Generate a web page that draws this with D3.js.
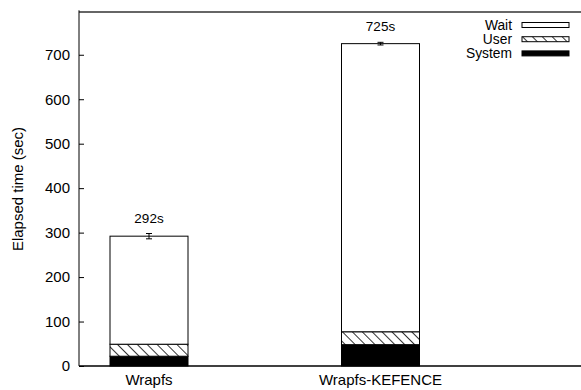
<!DOCTYPE html>
<html>
<head>
<meta charset="utf-8">
<script src="https://cdn.jsdelivr.net/npm/d3@7"></script>
<style>
  body { margin: 0; background: #fff; }
  svg text { font-family: "Liberation Sans", Arial, sans-serif; }
</style>
</head>
<body>
<div id="chart"></div>
<script>
// ---- data ----
var categories = ["Wrapfs", "Wrapfs-KEFENCE"];
var seriesNames = ["System", "User", "Wait"];
var systemTime = [22, 48];
var userTime = [27, 29];
var waitTime = [243, 648];
var totalLabels = ["292s", "725s"];
var errorHalf = [6, 3];
var yTicks = [0, 100, 200, 300, 400, 500, 600, 700];

var W = 581, H = 390;
var margin = {top: 12, right: 0, bottom: 24, left: 79};
var plotBottom = 366;

var svg = d3.select("#chart").append("svg")
    .attr("width", W)
    .attr("height", H);

// hatch pattern for "User"
var defs = svg.append("defs");
var pat = defs.append("pattern")
    .attr("id", "hatch")
    .attr("patternUnits", "userSpaceOnUse")
    .attr("width", 7)
    .attr("height", 7)
    .attr("patternTransform", "rotate(-45)");
pat.append("rect").attr("width", 7).attr("height", 7).attr("fill", "#fff");
pat.append("line")
    .attr("x1", 0).attr("y1", 0).attr("x2", 0).attr("y2", 7)
    .attr("stroke", "#000").attr("stroke-width", 1.6);

var fills = {System: "#000", User: "url(#hatch)", Wait: "#fff"};

// scales
var y = d3.scaleLinear().domain([0, 800]).range([plotBottom, 10.3]);
var x = d3.scalePoint()
    .domain(categories)
    .range([149, 380.5]);

// stacked data
var table = categories.map(function(c, i) {
    return {cat: c, System: systemTime[i], User: userTime[i], Wait: waitTime[i]};
});
var stack = d3.stack().keys(seriesNames)(table);

// frame line on top
svg.append("line")
    .attr("x1", margin.left).attr("x2", W)
    .attr("y1", 12).attr("y2", 12)
    .attr("stroke", "#333").attr("stroke-width", 1.5);

// bars
var bw = 78;
stack.forEach(function(layer) {
    svg.append("g").selectAll("rect")
        .data(layer)
        .enter().append("rect")
        .attr("x", function(d) { return x(d.data.cat) - bw / 2; })
        .attr("y", function(d) { return y(d[1]); })
        .attr("width", bw)
        .attr("height", function(d) { return y(d[0]) - y(d[1]); })
        .attr("fill", fills[layer.key])
        .attr("stroke", "#000")
        .attr("stroke-width", 1);
});

// error bars + total labels
table.forEach(function(d, i) {
    var cx = x(d.cat);
    var tot = systemTime[i] + userTime[i] + waitTime[i];
    var g = svg.append("g").attr("stroke", "#000").attr("stroke-width", 1);
    g.append("line").attr("x1", cx).attr("x2", cx)
        .attr("y1", y(tot - errorHalf[i])).attr("y2", y(tot + errorHalf[i]));
    g.append("line").attr("x1", cx - 3).attr("x2", cx + 3)
        .attr("y1", y(tot - errorHalf[i])).attr("y2", y(tot - errorHalf[i]));
    g.append("line").attr("x1", cx - 3).attr("x2", cx + 3)
        .attr("y1", y(tot + errorHalf[i])).attr("y2", y(tot + errorHalf[i]));
    svg.append("text")
        .attr("x", cx)
        .attr("y", y(tot) - 13)
        .attr("text-anchor", "middle")
        .attr("font-size", "13.5px")
        .text(totalLabels[i]);
});

// y axis (ticks inward)
var yAxis = svg.append("g")
    .attr("transform", "translate(" + margin.left + ",0)")
    .call(d3.axisRight(y).tickValues(yTicks).tickSize(5).tickFormat(d3.format("d")));
yAxis.select(".domain").attr("stroke", "#000").attr("d", "M0," + y(800) + "V" + plotBottom);
yAxis.selectAll("text")
    .attr("x", -9)
    .attr("text-anchor", "end")
    .attr("font-size", "15px")
    .attr("fill", "#000");

// bottom line
svg.append("line")
    .attr("x1", margin.left).attr("x2", W)
    .attr("y1", plotBottom).attr("y2", plotBottom)
    .attr("stroke", "#000").attr("stroke-width", 1.5);

// x labels
svg.append("g").selectAll("text")
    .data(categories)
    .enter().append("text")
    .attr("x", function(d) { return x(d); })
    .attr("y", 385)
    .attr("text-anchor", "middle")
    .attr("font-size", "15px")
    .text(function(d) { return d; });

// y label
svg.append("text")
    .attr("transform", "translate(23," + ((12 + plotBottom) / 2) + ") rotate(-90)")
    .attr("text-anchor", "middle")
    .attr("font-size", "15px")
    .text("Elapsed time (sec)");

// legend
var legendOrder = ["Wait", "User", "System"];
var leg = svg.append("g");
legendOrder.forEach(function(k, i) {
    var cy = 25 + i * 14.2;
    leg.append("text")
        .attr("x", 512)
        .attr("y", cy + 5)
        .attr("text-anchor", "end")
        .attr("font-size", "13.8px")
        .text(k);
    leg.append("rect")
        .attr("x", 522).attr("y", cy - 2.5)
        .attr("width", 47).attr("height", 5)
        .attr("fill", fills[k])
        .attr("stroke", "#000").attr("stroke-width", 1);
});
</script>
</body>
</html>
